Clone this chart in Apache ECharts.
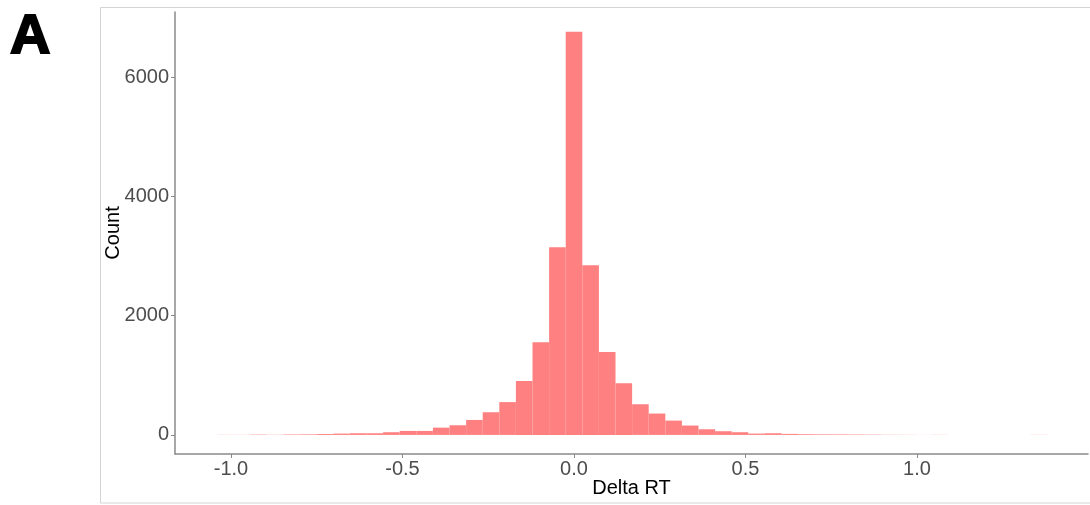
<!DOCTYPE html>
<html>
<head>
<meta charset="utf-8">
<script src="https://cdn.jsdelivr.net/npm/echarts@6/dist/echarts.min.js"></script>
<style>
  html, body { margin: 0; padding: 0; background: #fff; }
  #main { width: 1090px; height: 505px; }
</style>
</head>
<body>
<div id="main"></div>
<script>
// histogram of Delta RT, 50 bins
var firstEdge = -1.0406;
var binWidth = 0.0484;
var counts = [
  2, 2, 6, 3, 8, 10, 15, 22, 28, 28,
  45, 67, 67, 122, 162, 251, 380, 550, 905, 1553,
  3145, 6759, 2843, 1391, 866, 514, 358, 240, 157, 95,
  62, 45, 22, 28, 17, 12, 10, 9, 7, 5,
  3, 2, 1, 2, 0, 0, 0, 0, 0, 2
];
var xTicks = [-1.0, -0.5, 0.0, 0.5, 1.0];
var yTicks = [0, 2000, 4000, 6000];

// [left edge, right edge, count]
var bins = counts.map(function (c, i) {
  var lo = firstEdge + i * binWidth;
  return [lo, lo + binWidth, c];
});

var myChart = echarts.init(document.getElementById('main'));
var axisGray = '#8a8a8a';

myChart.setOption({
  animation: false,
  grid: { left: 175, right: 2, top: 12, bottom: 51, outerBoundsMode: 'none', containLabel: false },
  graphic: [
    {
      type: 'rect',
      shape: { x: 100.5, y: 7.5, width: 1000, height: 495.5 },
      style: { fill: null, stroke: '#d4d4d4', lineWidth: 1 },
      silent: true
    },
    {
      type: 'text',
      left: 9,
      top: 9,
      style: {
        text: 'A',
        font: 'bold 56px "Liberation Sans", Arial, sans-serif',
        fill: '#000',
        stroke: '#000',
        lineWidth: 2
      }
    }
  ],
  xAxis: {
    type: 'value',
    min: -1.1633,
    max: 1.4985,
    name: 'Delta RT',
    nameLocation: 'middle',
    nameGap: 24,
    nameMoveOverlap: false,
    nameTextStyle: { color: '#000', fontSize: 20, fontFamily: 'Liberation Sans' },
    axisLine: { onZero: false, lineStyle: { color: axisGray, width: 1.5 } },
    axisTick: { show: true, length: 4, customValues: xTicks, lineStyle: { color: axisGray } },
    axisLabel: {
      customValues: xTicks,
      margin: 5,
      color: '#4d4d4d',
      fontSize: 20,
      fontFamily: 'Liberation Sans',
      formatter: function (v) { return v.toFixed(1); }
    },
    splitLine: { show: false }
  },
  yAxis: {
    type: 'value',
    min: -320,
    max: 7090,
    name: 'Count',
    nameLocation: 'middle',
    nameGap: 52,
    nameMoveOverlap: false,
    nameTextStyle: { color: '#000', fontSize: 20, fontFamily: 'Liberation Sans' },
    axisLine: { show: true, onZero: false, lineStyle: { color: axisGray, width: 1.5 } },
    axisTick: { show: true, length: 4, customValues: yTicks, lineStyle: { color: axisGray } },
    axisLabel: {
      customValues: yTicks,
      margin: 6,
      color: '#4d4d4d',
      fontSize: 20,
      fontFamily: 'Liberation Sans',
      formatter: function (v) { return String(v); }
    },
    splitLine: { show: false }
  },
  series: [{
    type: 'custom',
    clip: true,
    encode: { x: [0, 1], y: 2 },
    data: bins,
    renderItem: function (params, api) {
      var p0 = api.coord([api.value(0), api.value(2)]);
      var p1 = api.coord([api.value(1), 0]);
      return {
        type: 'rect',
        shape: { x: p0[0], y: p0[1], width: p1[0] - p0[0], height: p1[1] - p0[1] },
        style: { fill: '#ff8080' }
      };
    }
  }]
});
</script>
</body>
</html>
